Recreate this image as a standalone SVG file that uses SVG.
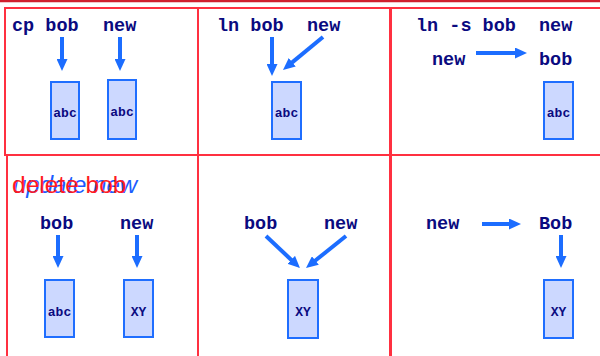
<svg xmlns="http://www.w3.org/2000/svg" width="600" height="356" viewBox="0 0 600 356">
<defs>
<style>
.cell{fill:none;stroke:#ff3040;stroke-width:2}
.t{font-family:"Liberation Mono","Courier New",monospace;font-weight:bold;font-size:18.5px;fill:#0a0a80}
.bx{fill:#ccd8ff;stroke:#1f6eff;stroke-width:2}
.bt{font-family:"Liberation Mono","Courier New",monospace;font-weight:bold;font-size:13px;fill:#0a0a80;text-anchor:middle}
.ar{stroke:#1c6dff;stroke-width:4;fill:none;marker-end:url(#ah)}
</style>
<marker id="ah" viewBox="0 0 12 11" refX="2" refY="5.5" markerWidth="12" markerHeight="11" markerUnits="userSpaceOnUse" orient="auto">
<path d="M0,0 L12,5.5 L0,11 Z" fill="#1c6dff"/>
</marker>
</defs>
<rect width="600" height="356" fill="#fff"/>
<line x1="0" y1="1" x2="600" y2="1" stroke="#d01f2e" stroke-width="2.5"/>
<g id="frames">
<rect class="cell" x="5" y="8" width="193" height="147"/>
<rect class="cell" x="198" y="8" width="192" height="147"/>
<rect class="cell" x="391" y="8" width="215" height="147"/>
<rect class="cell" x="7" y="155" width="191" height="210"/>
<rect class="cell" x="198" y="155" width="192" height="210"/>
<rect class="cell" x="391" y="155" width="215" height="210"/>
</g>
<g id="cell-cp">
<text class="t" x="12" y="31">cp bob</text>
<text class="t" x="103" y="31">new</text>
<rect class="bx" x="51" y="82" width="28" height="57"/>
<text class="bt" x="65" y="117">abc</text>
<rect class="bx" x="108" y="80" width="28" height="59"/>
<text class="bt" x="122" y="116">abc</text>
</g>
<g id="cell-ln">
<text class="t" x="217" y="31">ln bob</text>
<text class="t" x="307" y="31">new</text>
<rect class="bx" x="272" y="82" width="29" height="57"/>
<text class="bt" x="286.5" y="117">abc</text>
</g>
<g id="cell-lns">
<text class="t" x="416" y="31">ln -s bob</text>
<text class="t" x="539" y="31">new</text>
<text class="t" x="432" y="65">new</text>
<text class="t" x="539" y="65">bob</text>
<rect class="bx" x="544" y="82" width="29" height="57"/>
<text class="bt" x="558.5" y="117">abc</text>
</g>
<g id="cell-update">
<text x="13" y="193" font-family="Liberation Sans,Arial,sans-serif" font-size="24" font-style="italic" fill="#1c5cff">update new</text>
<text x="12" y="193" font-family="Liberation Sans,Arial,sans-serif" font-size="24.5" fill="#ff1a22">delete bob</text>
<text class="t" x="40" y="229">bob</text>
<text class="t" x="120" y="229">new</text>
<rect class="bx" x="45" y="280" width="29" height="57"/>
<text class="bt" x="59.5" y="316">abc</text>
<rect class="bx" x="124" y="280" width="29" height="57"/>
<text class="bt" x="138.5" y="316">XY</text>
</g>
<g id="cell-hard">
<text class="t" x="244" y="229">bob</text>
<text class="t" x="324" y="229">new</text>
<rect class="bx" x="288" y="280" width="30" height="58"/>
<text class="bt" x="303" y="316">XY</text>
</g>
<g id="cell-soft">
<text class="t" x="426" y="229">new</text>
<text class="t" x="539" y="229">Bob</text>
<rect class="bx" x="544" y="280" width="29" height="58"/>
<text class="bt" x="558.5" y="316">XY</text>
</g>
<g id="connectors">
<line class="ar" x1="62" y1="37" x2="62" y2="61"/>
<line class="ar" x1="120" y1="37" x2="120" y2="61"/>
<line class="ar" x1="272" y1="37" x2="272" y2="66"/>
<line class="ar" x1="323" y1="37" x2="290.7" y2="63.6"/>
<line class="ar" x1="476" y1="53" x2="517" y2="53"/>
<line class="ar" x1="58" y1="235" x2="58" y2="258"/>
<line class="ar" x1="137" y1="235" x2="137" y2="258"/>
<line class="ar" x1="266" y1="236" x2="292.7" y2="261.2"/>
<line class="ar" x1="346" y1="236" x2="313.8" y2="261.8"/>
<line class="ar" x1="482" y1="224" x2="511" y2="224"/>
<line class="ar" x1="561" y1="235" x2="561" y2="258"/>
</g>
</svg>
